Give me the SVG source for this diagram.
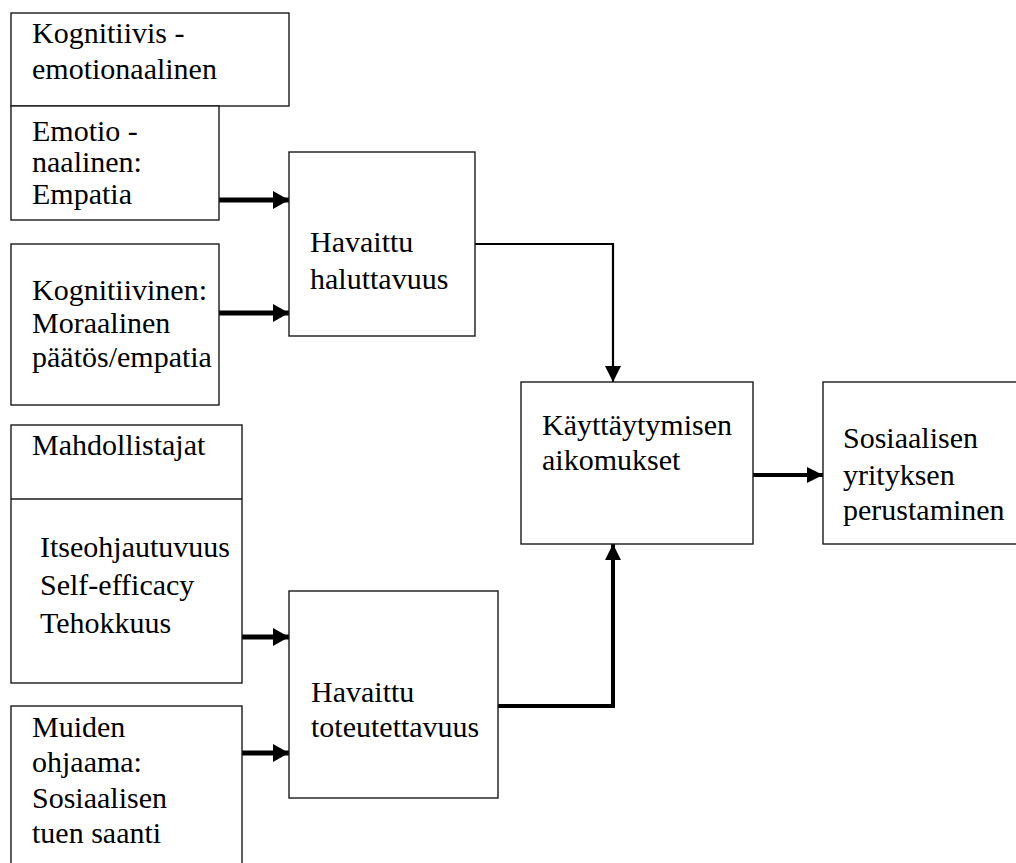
<svg xmlns="http://www.w3.org/2000/svg" width="1016" height="863" viewBox="0 0 1016 863">
<defs>
<marker id="ah" markerUnits="userSpaceOnUse" viewBox="0 0 16 18" refX="16" refY="9" markerWidth="16" markerHeight="18" orient="auto">
<path d="M0,0 L16,9 L0,18 Z" fill="#000"/>
</marker>
<marker id="ahs" markerUnits="userSpaceOnUse" viewBox="0 0 16 16" refX="16" refY="8" markerWidth="16" markerHeight="16" orient="auto">
<path d="M0,0 L16,8 L0,16 Z" fill="#000"/>
</marker>
</defs>
<rect width="1016" height="863" fill="#fff"/>
<g id="connectors" stroke="#000" fill="none">
<g stroke-width="5">
<line x1="219" y1="200" x2="289" y2="200" marker-end="url(#ah)"/>
<line x1="219" y1="313" x2="289" y2="313" marker-end="url(#ah)"/>
<line x1="242" y1="637" x2="289" y2="637" marker-end="url(#ah)"/>
<line x1="242" y1="753" x2="289" y2="753" marker-end="url(#ah)"/>
</g>
<polyline stroke-width="2.2" points="475,244 613,244 613,382" marker-end="url(#ahs)"/>
<polyline stroke-width="4" points="498,706 613,706 613,544" marker-end="url(#ahs)"/>
<line stroke-width="4" x1="753" y1="475" x2="823" y2="475" marker-end="url(#ahs)"/>
</g>
<g id="nodes" stroke-width="1.4">
<g id="kognitiivis-emotionaalinen">
<rect x="11" y="13" width="278" height="93" fill="#fff" stroke="#1a1a1a"/>
<text x="32" y="43" font-family="'Liberation Serif', 'Times New Roman', serif" font-size="30">Kognitiivis -</text>
<text x="32" y="79" font-family="'Liberation Serif', 'Times New Roman', serif" font-size="30">emotionaalinen</text>
</g>
<g id="emotionaalinen">
<rect x="11" y="106" width="208" height="114" fill="#fff" stroke="#1a1a1a"/>
<text x="32" y="141" font-family="'Liberation Serif', 'Times New Roman', serif" font-size="30">Emotio -</text>
<text x="32" y="172" font-family="'Liberation Serif', 'Times New Roman', serif" font-size="30">naalinen:</text>
<text x="32" y="204" font-family="'Liberation Serif', 'Times New Roman', serif" font-size="30">Empatia</text>
</g>
<g id="kognitiivinen">
<rect x="11" y="244" width="208" height="161" fill="#fff" stroke="#1a1a1a"/>
<text x="32" y="300" font-family="'Liberation Serif', 'Times New Roman', serif" font-size="30">Kognitiivinen:</text>
<text x="32" y="333" font-family="'Liberation Serif', 'Times New Roman', serif" font-size="30">Moraalinen</text>
<text x="32" y="367" font-family="'Liberation Serif', 'Times New Roman', serif" font-size="30">päätös/empatia</text>
</g>
<g id="mahdollistajat">
<rect x="11" y="425" width="231" height="258" fill="#fff" stroke="#1a1a1a"/>
<line x1="11" y1="499" x2="242" y2="499" stroke="#1a1a1a"/>
<text x="32" y="455" font-family="'Liberation Serif', 'Times New Roman', serif" font-size="30">Mahdollistajat</text>
<text x="40" y="557" font-family="'Liberation Serif', 'Times New Roman', serif" font-size="30">Itseohjautuvuus</text>
<text x="40" y="595" font-family="'Liberation Serif', 'Times New Roman', serif" font-size="30">Self-efficacy</text>
<text x="40" y="633" font-family="'Liberation Serif', 'Times New Roman', serif" font-size="30">Tehokkuus</text>
</g>
<g id="muiden">
<rect x="11" y="706" width="231" height="170" fill="#fff" stroke="#1a1a1a"/>
<text x="32" y="737" font-family="'Liberation Serif', 'Times New Roman', serif" font-size="30">Muiden</text>
<text x="32" y="772" font-family="'Liberation Serif', 'Times New Roman', serif" font-size="30">ohjaama:</text>
<text x="32" y="808" font-family="'Liberation Serif', 'Times New Roman', serif" font-size="30">Sosiaalisen</text>
<text x="32" y="843" font-family="'Liberation Serif', 'Times New Roman', serif" font-size="30">tuen saanti</text>
</g>
<g id="haluttavuus">
<rect x="289" y="152" width="186" height="184" fill="#fff" stroke="#1a1a1a"/>
<text x="310" y="252" font-family="'Liberation Serif', 'Times New Roman', serif" font-size="30">Havaittu</text>
<text x="310" y="289" font-family="'Liberation Serif', 'Times New Roman', serif" font-size="30">haluttavuus</text>
</g>
<g id="toteutettavuus">
<rect x="289" y="591" width="209" height="207" fill="#fff" stroke="#1a1a1a"/>
<text x="311" y="702" font-family="'Liberation Serif', 'Times New Roman', serif" font-size="30">Havaittu</text>
<text x="311" y="737" font-family="'Liberation Serif', 'Times New Roman', serif" font-size="30">toteutettavuus</text>
</g>
<g id="aikomukset">
<rect x="521" y="382" width="232" height="162" fill="#fff" stroke="#1a1a1a"/>
<text x="542" y="435" font-family="'Liberation Serif', 'Times New Roman', serif" font-size="30">Käyttäytymisen</text>
<text x="542" y="470" font-family="'Liberation Serif', 'Times New Roman', serif" font-size="30">aikomukset</text>
</g>
<g id="perustaminen">
<rect x="823" y="382" width="200" height="162" fill="#fff" stroke="#1a1a1a"/>
<text x="843" y="448" font-family="'Liberation Serif', 'Times New Roman', serif" font-size="30">Sosiaalisen</text>
<text x="843" y="485" font-family="'Liberation Serif', 'Times New Roman', serif" font-size="30">yrityksen</text>
<text x="843" y="520" font-family="'Liberation Serif', 'Times New Roman', serif" font-size="30">perustaminen</text>
</g>
</g>
</svg>
